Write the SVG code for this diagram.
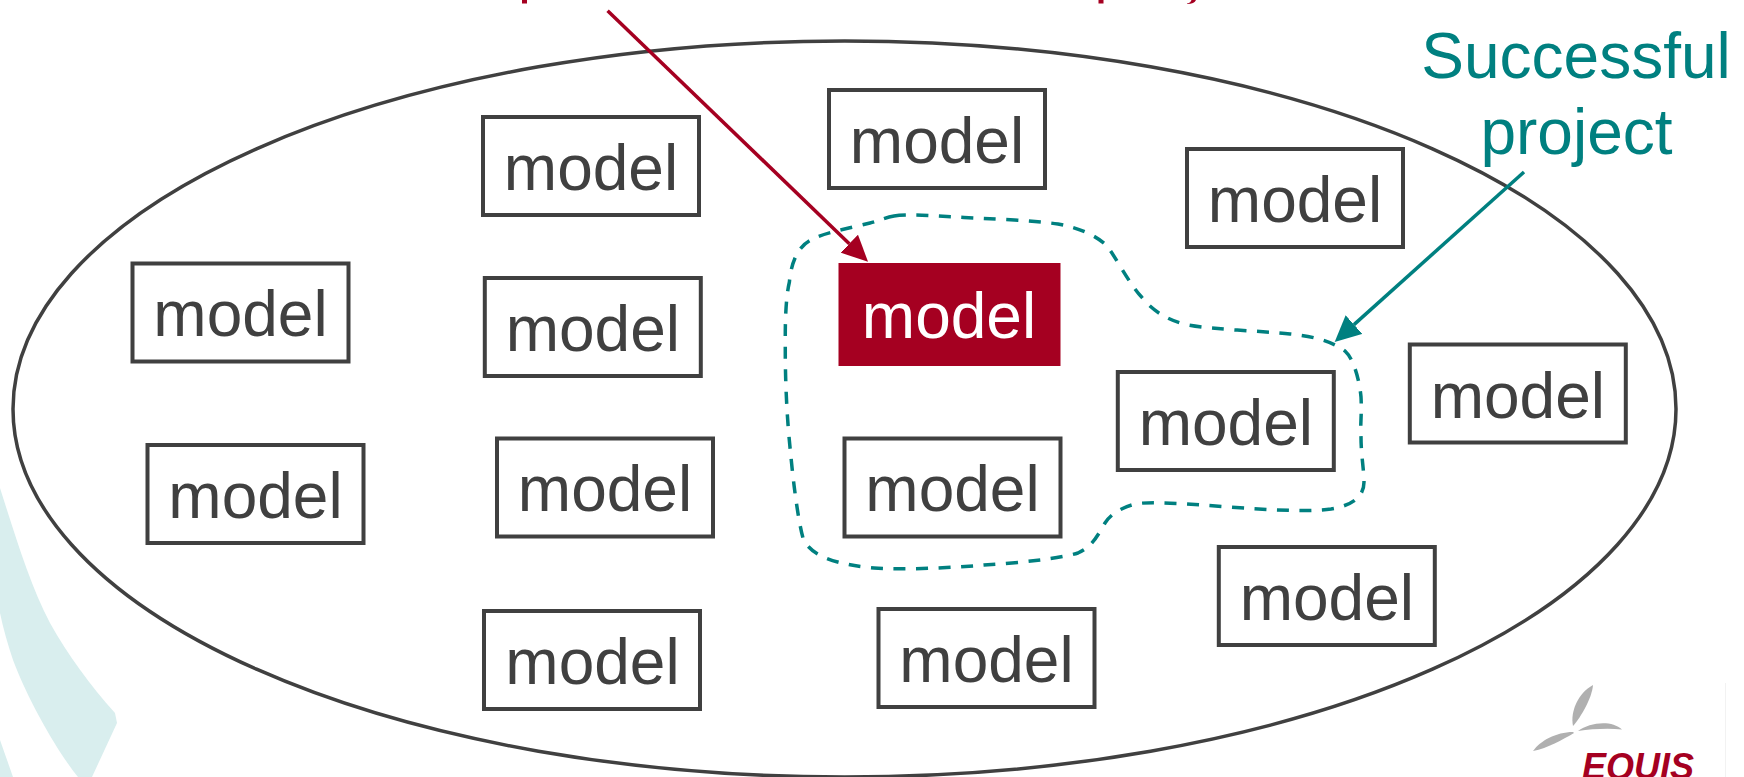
<svg xmlns="http://www.w3.org/2000/svg" width="1744" height="777" viewBox="0 0 1744 777">
<style>
text{font-family:"Liberation Sans",Arial,sans-serif;font-size:64px;text-anchor:middle}
.box{fill:#fff;stroke:#404040;stroke-width:4}
.lbl{fill:#404040}
.teal{fill:#008080}
.swoosh{fill:#d9eeee}
.blade{fill:#b0b0b0}
.red{fill:#a50021}
</style>
<defs>
<marker id="headRed" markerUnits="userSpaceOnUse" markerWidth="26" markerHeight="25" refX="0" refY="12.5" orient="auto"><path d="M0,0L26,12.5L0,25Z" fill="#a50021"/></marker>
<marker id="headTeal" markerUnits="userSpaceOnUse" markerWidth="26" markerHeight="25" refX="0" refY="12.5" orient="auto"><path d="M0,0L26,12.5L0,25Z" fill="#008080"/></marker>
</defs>
<rect width="1744" height="777" fill="#fff"/>
<g id="background">
<path class="swoosh" d="M0,488C15,535 30,585 50,623C68,655 90,685 115,713L117,723L92,777H78C60,755 30,705 13,660C8,645 3,628 0,613Z"/>
<path class="swoosh" d="M0,740L13,777H0Z"/>
<line x1="1725.5" y1="683" x2="1725.5" y2="777" stroke="#f2f2f2" stroke-width="1"/>
</g>
<ellipse id="universe" cx="844.5" cy="409" rx="831.5" ry="368" fill="none" stroke="#404040" stroke-width="3.5"/>
<g id="title-fragments">
<rect class="red" x="522" y="0" width="5" height="3.5"/>
<rect class="red" x="1098.5" y="0" width="5" height="3.5"/>
<path class="red" d="M1187,3.5C1190,3 1191,1.5 1191.5,0H1196C1195,2.5 1192,4 1187,4Z"/>
</g>
<g id="model-a"><rect class="box" x="483" y="117" width="216" height="98"/><text class="lbl" x="591" y="189.500">model</text></g>
<g id="model-b"><rect class="box" x="829" y="90" width="216" height="98"/><text class="lbl" x="937" y="163">model</text></g>
<g id="model-c"><rect class="box" x="1187" y="149" width="216" height="98"/><text class="lbl" x="1295" y="222">model</text></g>
<g id="model-d"><rect class="box" x="132.500" y="263.500" width="216" height="98"/><text class="lbl" x="240.500" y="336">model</text></g>
<g id="model-e"><rect class="box" x="484.800" y="278" width="216" height="98"/><text class="lbl" x="592.800" y="350.500">model</text></g>
<g id="model-f"><rect class="red" x="838.500" y="263" width="222" height="103"/><text fill="#fff" x="949" y="338">model</text></g>
<g id="model-g"><rect class="box" x="1117.800" y="372" width="216" height="98"/><text class="lbl" x="1225.800" y="445">model</text></g>
<g id="model-h"><rect class="box" x="1409.800" y="344.500" width="216" height="98"/><text class="lbl" x="1517.800" y="417.500">model</text></g>
<g id="model-i"><rect class="box" x="147.500" y="445" width="216" height="98"/><text class="lbl" x="255.500" y="517.500">model</text></g>
<g id="model-j"><rect class="box" x="497" y="438.500" width="216" height="98"/><text class="lbl" x="605" y="511">model</text></g>
<g id="model-k"><rect class="box" x="844.500" y="438.500" width="216" height="98"/><text class="lbl" x="952.500" y="511">model</text></g>
<g id="model-l"><rect class="box" x="1218.800" y="547" width="216" height="98"/><text class="lbl" x="1326.800" y="620">model</text></g>
<g id="model-m"><rect class="box" x="484" y="611" width="216" height="98"/><text class="lbl" x="592.500" y="683.500">model</text></g>
<g id="model-n"><rect class="box" x="878.500" y="609" width="216" height="98"/><text class="lbl" x="986.500" y="682">model</text></g>
<g id="successful-label"><text class="teal" x="1576" y="77.500">Successful</text><text class="teal" x="1576.500" y="154">project</text></g>
<g id="connectors">
<path id="project-outline" fill="none" stroke="#008080" stroke-width="3.500" stroke-dasharray="12 10.500" d="M894,216C905,214 925,215 964,217.500C990,219 1030,220 1058,224C1080,228 1097,236 1107,246C1115,256 1130,285 1141.600,297C1150,308 1165,320 1188,325C1215,330 1265,331 1290,334C1310,336 1330,340 1345,351C1355,360 1360,385 1361,397C1362,415 1360,425 1361,437C1361,455 1364,470 1364,482C1364,495 1355,505 1331,509C1310,512 1270,510 1229,507C1190,504 1150,501 1135,504C1120,508 1110,515 1105,523C1098,535 1092,547 1078,553C1062,558 1020,563 984,565C950,568 900,570 874,568C840,565 810,557 803,538C798,520 793,480 790.600,453C787,420 785,380 785.300,343C785,310 787,292 789.400,282C791,264 797,247 811,240C822,233 850,228 870,223C880,220.500 885,217.500 894,216Z"/>
<line x1="607.600" y1="10.700" x2="849.300" y2="243.700" stroke="#a50021" stroke-width="3.500" marker-end="url(#headRed)"/>
<line x1="1524" y1="172" x2="1354" y2="324.600" stroke="#008080" stroke-width="3.500" marker-end="url(#headTeal)"/>
</g>
<g id="logo">
<path class="blade" d="M1593,685C1578,693 1570,712 1573,726C1581,717 1592,698 1593,685Z"/>
<path class="blade" d="M1578,731C1590,722 1612,720 1622,729.500C1608,728 1592,729 1578,731Z"/>
<path class="blade" d="M1573,732C1556,732 1540,741 1533,751C1548,748 1562,740 1574,733Z"/>
<text class="red" x="1638" y="779" style="font-size:36px;font-weight:bold;font-style:italic">EQUIS</text>
</g>
</svg>
